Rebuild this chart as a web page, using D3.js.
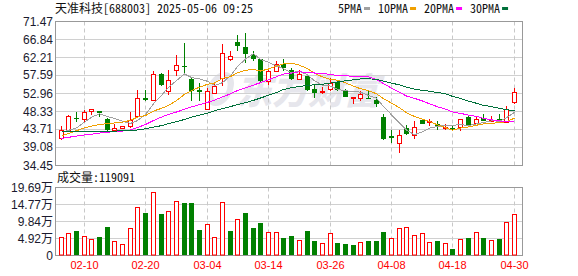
<!DOCTYPE html>
<html>
<head>
<meta charset="utf-8">
<script src="https://cdn.jsdelivr.net/npm/d3@7"></script>
<style>
body { margin: 0; background: #fff; }
svg { display: block; }
</style>
</head>
<body>
<svg width="578" height="276"></svg>
<script>
var stockTitle = "天准科技[688003] 2025-05-06 09:25";

var dates = ["02-05","02-06","02-07","02-10","02-11","02-12","02-13","02-14","02-17","02-18",
  "02-19","02-20","02-21","02-24","02-25","02-26","02-27","02-28","03-03","03-04",
  "03-05","03-06","03-07","03-10","03-11","03-12","03-13","03-14","03-17","03-18",
  "03-19","03-20","03-21","03-24","03-25","03-26","03-27","03-28","03-31","04-01",
  "04-02","04-03","04-07","04-08","04-09","04-10","04-11","04-14","04-15","04-16",
  "04-17","04-18","04-21","04-22","04-23","04-24","04-25","04-28","04-29","04-30"];

var openP = [41.6,43.7,46.6,46.5,48.5,48.4,46.5,43.6,44.1,44.5,
  47.3,51.7,51.2,58.1,53.5,59.1,60.1,56.7,53.8,49.1,
  53.1,57.0,61.9,66.1,64.9,62.9,61.8,56.3,58.8,60.6,
  59.1,56.8,57.4,54.1,53.3,54.0,55.8,53.5,51.7,51.7,
  51.8,51.2,46.9,42.0,40.3,44.1,42.2,46.2,45.8,45.2,
  44.0,44.1,44.3,47.0,45.3,46.7,46.1,46.5,45.6,50.7];
var highP = [44.6,47.4,48.2,48.8,48.9,48.5,46.7,45.2,44.7,48.2,
  53.8,53.8,58.7,58.2,59.1,62.9,65.9,57.0,55.7,54.4,
  55.7,65.8,63.8,68.1,68.5,63.8,61.9,59.1,61.4,61.9,
  59.5,59.1,57.8,55.2,54.6,57.0,56.1,54.0,52.0,53.5,
  53.7,52.0,47.6,43.7,43.7,44.8,45.9,46.5,46.4,46.0,
  45.0,44.6,46.3,47.1,47.3,47.8,47.3,47.6,49.7,54.4];
var lowP = [41.1,43.6,45.6,45.4,47.4,46.9,43.4,43.5,43.9,44.1,
  46.7,51.1,51.0,54.8,52.7,57.4,57.8,51.0,51.0,48.8,
  52.9,55.0,61.4,64.0,60.8,61.4,55.7,55.2,58.7,58.7,
  56.4,56.5,53.5,51.8,52.9,53.5,53.5,52.0,50.3,51.0,
  51.5,49.5,40.9,40.3,37.7,42.4,41.3,45.0,44.6,43.6,
  43.7,43.5,43.3,44.6,45.0,45.9,45.6,45.4,45.4,50.3];
var closeP = [43.5,47.3,46.4,48.2,48.85,48.0,43.7,44.0,44.5,46.1,
  51.7,51.3,58.1,55.2,56.5,60.2,59.9,53.5,53.4,53.5,
  54.8,63.5,62.5,65.1,63.1,61.9,56.1,58.7,60.6,59.5,
  56.8,58.0,53.8,53.1,53.7,55.7,53.8,52.1,52.0,52.9,
  51.6,50.3,41.2,41.4,42.2,42.6,44.3,45.2,45.9,44.3,
  44.4,43.95,46.3,44.6,46.5,46.0,46.2,46.0,49.0,53.3];
var volume = [54800,65300,72000,56700,48000,54800,83600,42300,33600,80700,
  140300,123900,184400,121000,129700,158500,152700,152700,75000,91300,
  54800,155600,72000,105700,123900,78800,95100,69200,69200,50000,
  57600,46100,72000,43200,36500,66300,37500,34600,31700,40300,
  43200,43200,69000,51900,80700,83600,59600,65300,39400,43200,
  37500,20200,49000,51900,68200,51900,46100,49000,98000,119091];

var ma5 = [43.0,43.5,44.1,45.6,46.85,47.75,47.03,46.55,45.81,45.26,
  46.0,47.52,50.34,52.48,54.56,56.26,57.98,57.06,56.7,56.1,
  55.02,55.74,57.54,59.88,61.8,63.22,61.74,60.98,60.08,59.36,
  58.34,58.72,57.74,56.24,55.08,54.86,54.02,53.68,53.46,53.3,
  52.48,51.78,49.6,47.48,45.34,43.54,42.34,43.14,44.04,44.46,
  44.82,44.75,44.97,44.71,45.15,45.47,45.92,45.86,46.74,48.1];
var ma10 = [42.0,42.7,43.4,44.1,44.6,45.0,45.2,45.4,45.6,46.06,
  46.88,47.28,48.45,49.15,49.91,51.13,52.75,53.7,54.59,55.33,
  55.64,56.86,57.3,58.29,58.95,59.12,58.74,59.26,59.98,60.58,
  60.78,60.23,59.36,58.16,57.22,56.6,56.37,55.71,54.85,54.19,
  53.67,52.9,51.64,50.47,49.32,48.01,47.06,46.37,45.76,44.9,
  44.18,43.55,44.06,44.38,44.81,45.15,45.34,45.42,45.73,46.63];
var ma20 = [41.4,41.7,42.0,42.3,42.5,42.8,43.0,43.15,43.3,43.6,
  44.2,45.0,46.0,46.9,47.6,48.2,48.9,49.5,50.1,50.69,
  51.26,52.07,52.87,53.72,54.43,55.13,55.75,56.48,57.29,57.96,
  58.21,58.55,58.33,58.23,58.09,57.86,57.56,57.49,57.42,57.39,
  57.23,56.57,55.5,54.32,53.27,52.31,51.72,51.04,50.31,49.55,
  48.93,48.22,47.85,47.42,47.06,46.58,46.2,45.89,45.74,45.76];
var ma30 = [43.2,43.2,43.25,43.25,43.3,43.3,43.3,43.3,43.35,43.4,
  43.6,43.9,44.3,44.7,45.2,45.7,46.3,46.9,47.4,47.9,
  48.5,49.1,49.6,50.1,50.6,51.2,51.8,52.5,53.2,53.99,
  54.43,54.79,55.04,55.2,55.36,55.62,55.95,56.22,56.47,56.7,
  56.7,56.66,56.1,55.64,55.16,54.58,54.06,53.78,53.53,53.22,
  52.88,52.23,51.69,51.0,50.45,49.92,49.59,49.17,48.78,48.57];

var priceTicks = [34.45, 39.08, 43.71, 48.33, 52.96, 57.59, 62.21, 66.84, 71.47];
var volTicks = [0, 49220, 98440, 147660, 196880];
var xLabels = ["02-10","02-20","03-04","03-14","03-26","04-08","04-18","04-30"];

var maNames = ["5PMA", "10PMA", "20PMA", "30PMA"];
var maColors = ["#a0a0a0", "#f0a000", "#ff00ff", "#00703a"];
var maSeries = [ma5, ma10, ma20, ma30];

var RED = "#ff0000", GREEN = "#008000";

var svg = d3.select('svg'),
  width = +svg.attr("width"),
  height = +svg.attr("height");

var left = 55.5, right = 522.5,
  priceTop = 21.5, priceBottom = 165.5,
  volTop = 187.5, volBottom = 255.5;

var x = d3.scaleBand().domain(dates).range([56.8, 517.8]);
var y = d3.scaleLinear()
    .domain([priceTicks[0], priceTicks[priceTicks.length - 1]])
    .range([priceBottom, priceTop]);
var yVol = d3.scaleLinear()
    .domain([0, volTicks[volTicks.length - 1]])
    .range([volBottom, volTop]);

function cx(d) { return Math.round(x(d) + x.bandwidth() / 2) + 0.5; }

var bars = dates.map(function(d, i) {
  return {
    date: d, o: openP[i], h: highP[i], l: lowP[i], c: closeP[i], v: volume[i],
    up: closeP[i] >= openP[i],
    volUp: i === 0 || closeP[i] >= closeP[i - 1]
  };
});

var labelFont = "'Liberation Sans', Arial, 'Noto Sans CJK SC', sans-serif";
var cjkFont = "'Noto Sans Mono CJK SC', 'Noto Sans CJK SC', sans-serif";

// watermark
var wm = svg.append("g").attr("fill", "none");
wm.append("ellipse")
    .attr("cx", 220).attr("cy", 89).attr("rx", 10).attr("ry", 14)
    .attr("transform", "skewX(-15) translate(24,0)")
    .attr("stroke", "#e6e6ec").attr("stroke-width", 6);
wm.append("text")
    .attr("x", 236).attr("y", 104)
    .attr("font-family", "'Noto Sans CJK SC', sans-serif")
    .attr("font-weight", 900)
    .attr("font-style", "italic")
    .attr("font-size", 36)
    .attr("fill", "#e6e6ec")
    .text("东方财富");

// grid: horizontal
svg.append("g")
  .selectAll("line")
  .data(priceTicks)
  .enter().append("line")
    .attr("x1", left).attr("x2", right)
    .attr("y1", function(d) { return Math.round(y(d) - 0.5) + 0.5; })
    .attr("y2", function(d) { return Math.round(y(d) - 0.5) + 0.5; })
    .attr("stroke", "#d0d0d0");

svg.append("g")
  .selectAll("line")
  .data(volTicks)
  .enter().append("line")
    .attr("x1", left).attr("x2", right)
    .attr("y1", function(d) { return Math.round(yVol(d) - 0.5) + 0.5; })
    .attr("y2", function(d) { return Math.round(yVol(d) - 0.5) + 0.5; })
    .attr("stroke", "#d0d0d0");

// grid: vertical dashed
[[priceTop, priceBottom], [volTop, volBottom]].forEach(function(r) {
  svg.append("g")
    .selectAll("line")
    .data(xLabels)
    .enter().append("line")
      .attr("x1", cx).attr("x2", cx)
      .attr("y1", r[0]).attr("y2", r[1])
      .attr("stroke", "#c8c8c8")
      .attr("stroke-dasharray", "4,3");
});

// frames
[[priceTop, priceBottom], [volTop, volBottom]].forEach(function(r) {
  svg.append("rect")
      .attr("x", left).attr("y", r[0])
      .attr("width", right - left).attr("height", r[1] - r[0])
      .attr("fill", "none")
      .attr("stroke", "#999");
});

// candles
var candle = svg.append("g").attr("class", "candles")
  .selectAll("g")
  .data(bars)
  .enter().append("g");

candle.append("line")
    .attr("x1", function(d) { return cx(d.date); })
    .attr("x2", function(d) { return cx(d.date); })
    .attr("y1", function(d) { return Math.round(y(d.h)); })
    .attr("y2", function(d) { return Math.round(y(d.l)); })
    .attr("stroke", function(d) { return d.up ? RED : GREEN; });

candle.filter(function(d) { return !d.up; })
  .append("rect")
    .attr("x", function(d) { return cx(d.date) - 2.5; })
    .attr("y", function(d) { return Math.round(y(d.o)); })
    .attr("width", 5)
    .attr("height", function(d) { return Math.max(1, Math.round(y(d.c)) - Math.round(y(d.o))); })
    .attr("fill", GREEN);

candle.filter(function(d) { return d.up; })
  .append("rect")
    .attr("x", function(d) { return cx(d.date) - 2; })
    .attr("y", function(d) { return Math.round(y(d.c)) + 0.5; })
    .attr("width", 4)
    .attr("height", function(d) { return Math.max(1, Math.round(y(d.o)) - Math.round(y(d.c))); })
    .attr("fill", "#fff")
    .attr("stroke", RED);

// moving averages
maSeries.forEach(function(s, k) {
  var line = d3.line()
      .x(function(d, i) { return cx(dates[i]); })
      .y(function(d) { return y(d); });
  svg.append("path")
      .datum(s)
      .attr("d", line)
      .attr("fill", "none")
      .attr("stroke", maColors[k])
      .attr("stroke-width", 1)
      .attr("shape-rendering", "crispEdges");
});

// volume bars
var vbar = svg.append("g").attr("class", "volume")
  .selectAll("rect")
  .data(bars)
  .enter().append("rect");

vbar.filter(function(d) { return !d.volUp; })
    .attr("x", function(d) { return cx(d.date) - 2.5; })
    .attr("y", function(d) { return Math.round(yVol(d.v)); })
    .attr("width", 5)
    .attr("height", function(d) { return volBottom - 0.5 - Math.round(yVol(d.v)); })
    .attr("fill", GREEN);

vbar.filter(function(d) { return d.volUp; })
    .attr("x", function(d) { return cx(d.date) - 2; })
    .attr("y", function(d) { return Math.round(yVol(d.v)) + 0.5; })
    .attr("width", 4)
    .attr("height", function(d) { return volBottom - 1 - Math.round(yVol(d.v)); })
    .attr("fill", "#fff")
    .attr("stroke", RED);

// axis labels
svg.append("g")
  .selectAll("text")
  .data(priceTicks)
  .enter().append("text")
    .attr("x", 53)
    .attr("y", function(d) { return y(d) + 4; })
    .attr("text-anchor", "end")
    .attr("font-family", labelFont)
    .attr("font-size", 12)
    .attr("fill", "#1a1a2e")
    .text(function(d) { return d.toFixed(2); });

svg.append("g")
  .selectAll("text")
  .data(volTicks)
  .enter().append("text")
    .attr("x", 53)
    .attr("y", function(d) { return yVol(d) + 4; })
    .attr("text-anchor", "end")
    .attr("font-family", labelFont)
    .attr("font-size", 12)
    .attr("fill", "#1a1a2e")
    .text(function(d) { return d === 0 ? "0" : (d / 10000).toFixed(2) + "万"; });

svg.append("g")
  .selectAll("text")
  .data(xLabels)
  .enter().append("text")
    .attr("x", cx)
    .attr("y", 269)
    .attr("text-anchor", "middle")
    .attr("font-family", labelFont)
    .attr("font-size", 11)
    .attr("fill", RED)
    .text(function(d) { return d; });

// titles
svg.append("text")
    .attr("x", 55).attr("y", 13)
    .attr("font-family", cjkFont)
    .attr("font-size", 12)
    .attr("fill", "#111")
    .text(stockTitle);

svg.append("text")
    .attr("x", 57).attr("y", 182)
    .attr("font-family", cjkFont)
    .attr("font-size", 12)
    .attr("fill", "#111")
    .text("成交量:" + volume[volume.length - 1]);

// legend
var lx = 338;
maNames.forEach(function(name, k) {
  var t = svg.append("text")
      .attr("x", lx).attr("y", 13)
      .attr("font-family", cjkFont)
      .attr("font-size", 12)
      .attr("fill", "#111")
      .text(name);
  lx += t.node().getComputedTextLength() + 2;
  svg.append("rect")
      .attr("x", lx).attr("y", 7)
      .attr("width", 6).attr("height", 3)
      .attr("fill", maColors[k]);
  lx += 6 + 8;
});
</script>
</body>
</html>
